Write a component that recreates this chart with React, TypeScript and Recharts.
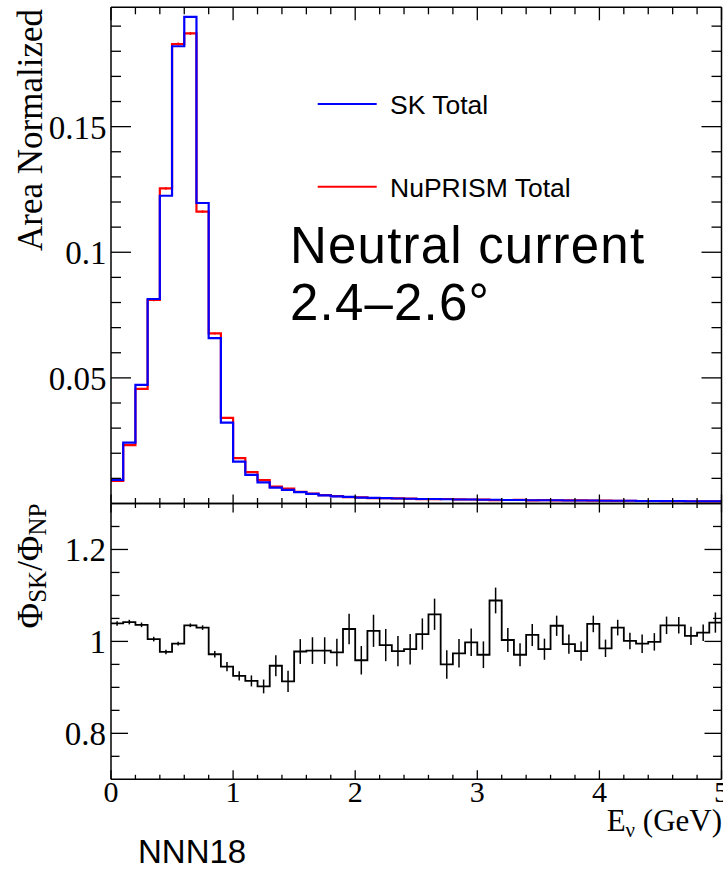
import React from "react";
import { ComposedChart, Line, Scatter, XAxis, YAxis, ErrorBar, Legend } from "recharts";

// Histogram binning (GeV)
const BIN_WIDTH = 0.1;

// Area-normalised flux per 0.1 GeV bin
const skTotal = [
  0.0094, 0.0242, 0.0472, 0.0814, 0.1225, 0.182, 0.1937, 0.1196, 0.0658, 0.0322,
  0.0167, 0.0114, 0.0084, 0.0063, 0.0054, 0.0045, 0.0038, 0.0032, 0.0028, 0.0026,
  0.0023, 0.0022, 0.0021, 0.002, 0.0019, 0.0018, 0.0018, 0.0017, 0.0016, 0.0016,
  0.0015, 0.0015, 0.0014, 0.0014, 0.0013, 0.0013, 0.0013, 0.0012, 0.0012, 0.0012,
  0.0011, 0.0011, 0.0011, 0.001, 0.001, 0.001, 0.001, 0.0009, 0.0009, 0.0009,
];

const nuprismTotal = [
  0.009, 0.0232, 0.0456, 0.081, 0.1254, 0.1829, 0.1871, 0.1162, 0.0677, 0.0341,
  0.0181, 0.0125, 0.0093, 0.0067, 0.0059, 0.0046, 0.0039, 0.0033, 0.0029, 0.0025,
  0.0024, 0.00215, 0.00212, 0.00204, 0.00193, 0.00177, 0.0017, 0.00179, 0.00164, 0.0016,
  0.00155, 0.00138, 0.0014, 0.00144, 0.00128, 0.00132, 0.00126, 0.00121, 0.00123, 0.00116,
  0.00112, 0.00107, 0.0011, 0.001, 0.001, 0.00097, 0.00097, 0.00089, 0.00088, 0.00086,
];

const nuprismErr = [
  0.0002, 0.0003, 0.0004, 0.0005, 0.0005, 0.0006, 0.0006, 0.0005, 0.0004, 0.0003,
  0.0002, 0.0002, 0.0002, 0.0001, 0.0001, 0.0001, 0.0001, 0.0001, 0.0001, 0.0001,
  0.0001, 0.0001, 0.0001, 0.0001, 0.0001, 0.0001, 0.0001, 0.0001, 0.0001, 0.0001,
  0.0001, 0.0001, 0.0001, 0.0001, 0.0001, 0.0001, 0.0001, 0.0001, 0.0001, 0.0001,
  0.0001, 0.0001, 0.0001, 0.0001, 0.0001, 0.0001, 0.0001, 0.0001, 0.0001, 0.0001,
];

// SK / NuPRISM flux ratio per bin and its uncertainty
const ratioValues = [
  1.039, 1.042, 1.036, 1.005, 0.977, 0.995, 1.035, 1.03, 0.972, 0.945,
  0.925, 0.914, 0.902, 0.947, 0.913, 0.978, 0.98, 0.98, 0.976, 1.027,
  0.959, 1.023, 0.992, 0.979, 0.983, 1.016, 1.059, 0.95, 0.974, 0.998,
  0.971, 1.089, 1.003, 0.971, 1.014, 0.983, 1.034, 0.994, 0.979, 1.038,
  0.985, 1.03, 1.001, 0.995, 0.999, 1.035, 1.035, 1.012, 1.019, 1.041,
];

const ratioErr = [
  0.005, 0.005, 0.005, 0.005, 0.005, 0.004, 0.004, 0.005, 0.007, 0.01,
  0.01, 0.012, 0.015, 0.023, 0.023, 0.027, 0.029, 0.029, 0.03, 0.033,
  0.031, 0.035, 0.035, 0.033, 0.033, 0.034, 0.034, 0.031, 0.031, 0.03,
  0.029, 0.028, 0.026, 0.025, 0.024, 0.023, 0.022, 0.021, 0.021, 0.018,
  0.019, 0.017, 0.018, 0.02, 0.019, 0.019, 0.018, 0.02, 0.018, 0.022,
];

// Axis ticks
const energyTicks = [
  0, 0.2, 0.4, 0.6, 0.8, 1, 1.2, 1.4, 1.6, 1.8, 2, 2.2, 2.4, 2.6, 2.8,
  3, 3.2, 3.4, 3.6, 3.8, 4, 4.2, 4.4, 4.6, 4.8, 5,
];
const energyMajorTicks = [0, 1, 2, 3, 4, 5];
const fluxTicks = [
  0.01, 0.02, 0.03, 0.04, 0.05, 0.06, 0.07, 0.08, 0.09, 0.1,
  0.11, 0.12, 0.13, 0.14, 0.15, 0.16, 0.17, 0.18, 0.19,
];
const fluxMajorTicks = [0.05, 0.1, 0.15];
const ratioTicks = [0.75, 0.8, 0.85, 0.9, 0.95, 1, 1.05, 1.1, 1.15, 1.2, 1.25];
const ratioMajorTicks = [0.8, 1, 1.2];

const legendItems = [
  { key: "sk", label: "SK Total" },
  { key: "np", label: "NuPRISM Total" },
];

const SERIF = '"Liberation Serif", "Times New Roman", serif';
const SANS = '"Liberation Sans", Arial, Helvetica, sans-serif';

// Step-histogram rows: one row per lower bin edge, plus the closing upper edge
const histRows = Array.from({ length: skTotal.length + 1 }, (_, i) => {
  const j = Math.min(i, skTotal.length - 1);
  return { e: +(i * BIN_WIDTH).toFixed(2), sk: skTotal[j], np: nuprismTotal[j] };
});
const npPoints = nuprismTotal.map((v, i) => ({
  e: +((i + 0.5) * BIN_WIDTH).toFixed(3),
  v,
  err: nuprismErr[i],
}));
const ratioRows = Array.from({ length: ratioValues.length + 1 }, (_, i) => {
  const j = Math.min(i, ratioValues.length - 1);
  return { e: +(i * BIN_WIDTH).toFixed(2), r: ratioValues[j] };
});
const ratioPoints = ratioValues.map((r, i) => ({
  e: +((i + 0.5) * BIN_WIDTH).toFixed(3),
  r,
  err: ratioErr[i],
}));

type Side = "top" | "bottom" | "left" | "right";
type TickLabel = { dx: number; dy: number; size: number };

// Inward-pointing ROOT-style tick marks, with labels on major ticks
function makeTick(side: Side, majors: number[], majorLen: number, minorLen: number, label?: TickLabel) {
  return function Tick(props: any) {
    const { x, y, payload } = props;
    const v = payload.value;
    const major = majors.some((m) => Math.abs(m - v) < 1e-6);
    const len = major ? majorLen : minorLen;
    let x2 = x;
    let y2 = y;
    if (side === "bottom") y2 = y - len;
    else if (side === "top") y2 = y + len;
    else if (side === "left") x2 = x + len;
    else x2 = x - len;
    return (
      <g>
        <line x1={x} y1={y} x2={x2} y2={y2} stroke="#000" strokeWidth={1.3} />
        {label && major ? (
          <text
            x={x + label.dx}
            y={y + label.dy}
            textAnchor={side === "left" ? "end" : "middle"}
            fontFamily={SERIF}
            fontSize={label.size}
            fill="#000"
          >
            {String(v)}
          </text>
        ) : null}
      </g>
    );
  };
}

const frameLine = { stroke: "#000", strokeWidth: 1.5 };
const EmptyShape = () => <g />;

const topBottomTick = makeTick("bottom", energyMajorTicks, 9, 5.5);
const topTopTick = makeTick("top", energyMajorTicks, 13, 7);
const topLeftTick = makeTick("left", fluxMajorTicks, 20, 10, { dx: -4.5, dy: 12, size: 33 });
const topRightTick = makeTick("right", fluxMajorTicks, 20, 10);

const ratioBottomTick = makeTick("bottom", energyMajorTicks, 9, 4.5, { dx: 0, dy: 22.7, size: 30 });
const ratioTopTick = makeTick("top", energyMajorTicks, 9, 4.5);
const ratioLeftTick = makeTick("left", ratioMajorTicks, 17, 8.5, { dx: -5, dy: 12, size: 33 });
const ratioRightTick = makeTick("right", ratioMajorTicks, 17, 8.5);

const AreaTitle = () => (
  <text
    x={42}
    y={130}
    transform="rotate(-90 42 130)"
    textAnchor="middle"
    fontFamily={SERIF}
    fontSize={35}
    fill="#000"
  >
    Area Normalized
  </text>
);

const RatioTitle = () => (
  <text
    x={41.5}
    y={66}
    transform="rotate(-90 41.5 66)"
    textAnchor="middle"
    fontFamily={SERIF}
    fontSize={35}
    fill="#000"
  >
    Φ
    <tspan fontSize={25} dy={4}>SK</tspan>
    <tspan dy={-4}>/Φ</tspan>
    <tspan fontSize={25} dy={4}>NP</tspan>
  </text>
);

const EnergyTitle = () => (
  <text x={722} y={331} textAnchor="end" fontFamily={SERIF} fontSize={31} fill="#000">
    E
    <tspan fontSize={21} dy={6}>ν</tspan>
    <tspan dy={-6}> (GeV)</tspan>
  </text>
);

const renderLegend = (props: any) => {
  const payload: any[] = props.payload || [];
  const colorOf = (key: string) => {
    const hit = payload.find((p) => p.dataKey === key);
    return hit ? hit.color : "#000";
  };
  return (
    <svg width={330} height={130} style={{ display: "block" }}>
      {legendItems.map((item, i) => {
        const ly = 24 + i * 82.7;
        return (
          <g key={item.key}>
            <line x1={17.7} y1={ly} x2={76.7} y2={ly} stroke={colorOf(item.key)} strokeWidth={2} />
            <text x={90} y={ly + 10.3} fontFamily={SANS} fontSize={26.5} fill="#000">
              {item.label}
            </text>
          </g>
        );
      })}
    </svg>
  );
};

export default function App() {
  const common = { type: "number" as const, allowDataOverflow: true, interval: 0 as const, tickSize: 0, tickMargin: 0, tickLine: false, axisLine: frameLine };
  return (
    <div style={{ position: "absolute", left: 0, top: 0, width: 723, height: 869, background: "#fff" }}>
      <div style={{ position: "absolute", left: 0, top: 0 }}>
        <ComposedChart width={723} height={505} data={histRows} margin={{ top: 0, right: 0, bottom: 0, left: 0 }}>
          <XAxis xAxisId="b" dataKey="e" domain={[0, 5]} ticks={energyTicks} height={1.5} tick={topBottomTick} {...common} />
          <XAxis xAxisId="t" orientation="top" dataKey="e" domain={[0, 5]} ticks={energyTicks} height={7.3} tick={topTopTick} {...common} />
          <YAxis yAxisId="l" domain={[0, 0.1975]} ticks={fluxTicks} width={111} tick={topLeftTick} label={AreaTitle} {...common} />
          <YAxis yAxisId="r" orientation="right" domain={[0, 0.1975]} ticks={fluxTicks} width={1.5} tick={topRightTick} {...common} />
          <Line
            xAxisId="b"
            yAxisId="l"
            dataKey="np"
            name="NuPRISM Total"
            type="stepAfter"
            stroke="#ff0000"
            strokeWidth={2.2}
            dot={false}
            activeDot={false}
            isAnimationActive={false}
          />
          <Scatter
            xAxisId="b"
            yAxisId="l"
            data={npPoints}
            dataKey="v"
            shape={EmptyShape}
            legendType="none"
            isAnimationActive={false}
          >
            <ErrorBar dataKey="err" direction="y" width={0} stroke="#ff0000" strokeWidth={1.5} isAnimationActive={false} />
          </Scatter>
          <Line
            xAxisId="b"
            yAxisId="l"
            dataKey="sk"
            name="SK Total"
            type="stepAfter"
            stroke="#0000ff"
            strokeWidth={2.2}
            dot={false}
            activeDot={false}
            isAnimationActive={false}
          />
          <Legend
            layout="vertical"
            align="center"
            verticalAlign="middle"
            content={renderLegend}
            wrapperStyle={{ left: 300, top: 80, width: 330, height: 130 }}
          />
        </ComposedChart>
      </div>
      <div style={{ position: "absolute", left: 0, top: 500 }}>
        <ComposedChart width={723} height={369} data={ratioRows} margin={{ top: 0, right: 0, bottom: 0, left: 0 }}>
          <XAxis xAxisId="b" dataKey="e" domain={[0, 5]} ticks={energyTicks} height={89.7} tick={ratioBottomTick} label={EnergyTitle} {...common} />
          <XAxis xAxisId="t" orientation="top" dataKey="e" domain={[0, 5]} ticks={energyTicks} height={3.5} tick={ratioTopTick} {...common} />
          <YAxis yAxisId="l" domain={[0.7, 1.3]} ticks={ratioTicks} width={111} tick={ratioLeftTick} label={RatioTitle} {...common} />
          <YAxis yAxisId="r" orientation="right" domain={[0.7, 1.3]} ticks={ratioTicks} width={1.5} tick={ratioRightTick} {...common} />
          <Line
            xAxisId="b"
            yAxisId="l"
            dataKey="r"
            type="stepAfter"
            stroke="#000"
            strokeWidth={1.8}
            dot={false}
            activeDot={false}
            isAnimationActive={false}
          />
          <Scatter
            xAxisId="b"
            yAxisId="l"
            data={ratioPoints}
            dataKey="r"
            shape={EmptyShape}
            legendType="none"
            isAnimationActive={false}
          >
            <ErrorBar dataKey="err" direction="y" width={0} stroke="#000" strokeWidth={1.5} isAnimationActive={false} />
          </Scatter>
        </ComposedChart>
      </div>
      <svg width={723} height={869} style={{ position: "absolute", left: 0, top: 0, pointerEvents: "none" }}>
        <text x={290} y={263} fontFamily={SANS} fontSize={51} letterSpacing={1.2} fill="#000">
          Neutral current
        </text>
        <text x={290} y={320} fontFamily={SANS} fontSize={51} letterSpacing={1.2} fill="#000">
          2.4–2.6°
        </text>
        <text x={138} y={863} fontFamily={SANS} fontSize={33} fill="#000">
          NNN18
        </text>
      </svg>
    </div>
  );
}
